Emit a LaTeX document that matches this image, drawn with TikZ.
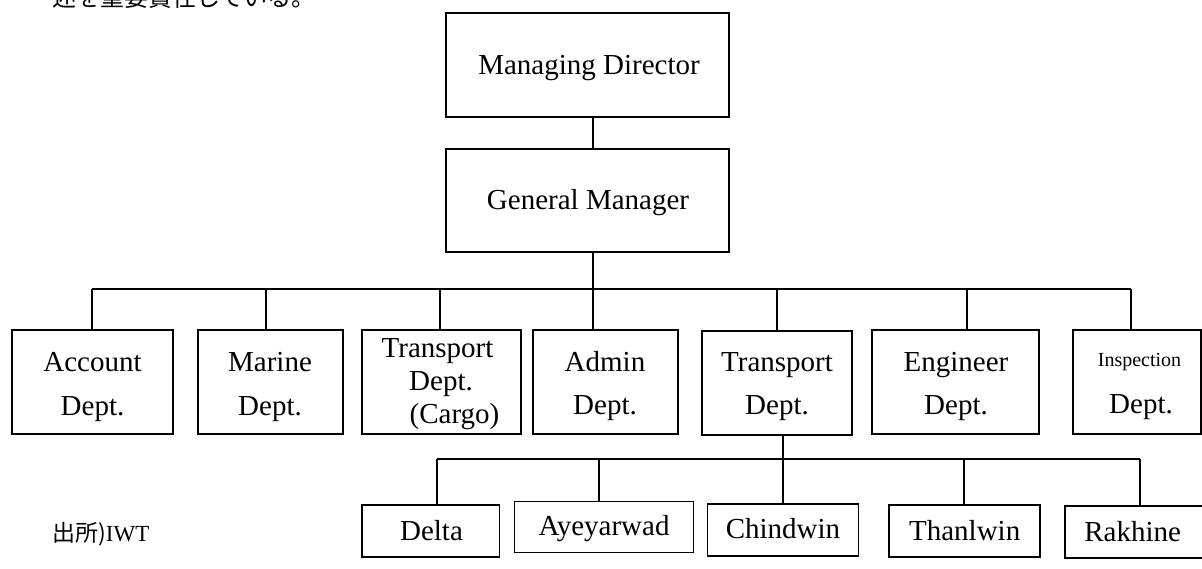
\documentclass[tikz,border=0pt]{standalone}
\usepackage{fontspec}
\setmainfont{Liberation Serif}
\newfontfamily\jpfont{Noto Sans CJK JP}
\tikzset{
  box/.style={draw, line width=1.5pt, inner sep=0pt, outer sep=0pt},
  lbl/.style={anchor=base, inner sep=0pt, font=\fontsize{29}{34}\selectfont},
  small/.style={anchor=base, inner sep=0pt, font=\fontsize{20}{24}\selectfont},
  link/.style={line width=1.3pt},
  jp/.style={anchor=base west, inner sep=0pt, font=\jpfont\fontsize{#1}{#1}\selectfont}
}
\begin{document}
\begin{tikzpicture}[x=1pt, y=-1pt]
\useasboundingbox (0,0) rectangle (1202,569);

% running text above the chart (cut by the page edge)
\node[jp=24] (intro) at (52,7) {述を重要責任している。};

% top management
\node[box, minimum width=283pt, minimum height=104pt] (md) at (587.5,65) {};
\node[lbl] (mdt) at (589,75) {Managing Director};
\node[box, minimum width=283pt, minimum height=103pt] (gm) at (587.5,200.5) {};
\node[lbl] (gmt) at (588,210) {General Manager};

% departments
\node[box, minimum width=161pt, minimum height=104pt] (acc) at (92.5,382) {};
\node[box, minimum width=145pt, minimum height=104pt] (mar) at (270.5,382) {};
\node[box, minimum width=159pt, minimum height=104pt] (crg) at (441.5,382) {};
\node[box, minimum width=145pt, minimum height=104pt] (adm) at (605.5,382) {};
\node[box, minimum width=150pt, minimum height=104pt] (trn) at (777,383) {};
\node[box, minimum width=167pt, minimum height=104pt] (eng) at (955.5,382) {};
\node[box, minimum width=128pt, minimum height=104pt] (ins) at (1137,382) {};

\node[lbl] (acc1) at (92.5,371) {Account};
\node[lbl] (acc2) at (92.5,415) {Dept.};
\node[lbl] (mar1) at (270,371) {Marine};
\node[lbl] (mar2) at (270,415) {Dept.};
\node[lbl] (crg1) at (437.5,357) {Transport};
\node[lbl] (crg2) at (441,390) {Dept.};
\node[lbl] (crg3) at (454.5,423) {(Cargo)};
\node[lbl] (adm1) at (605,371) {Admin};
\node[lbl] (adm2) at (605,414) {Dept.};
\node[lbl] (trn1) at (777,371) {Transport};
\node[lbl] (trn2) at (777,414) {Dept.};
\node[lbl] (eng1) at (956,371) {Engineer};
\node[lbl] (eng2) at (956,414) {Dept.};
\node[small] (ins1) at (1139.5,366) {Inspection};
\node[lbl] (ins2) at (1141,413) {Dept.};

% regional offices
\node[box, minimum width=137.5pt, minimum height=52pt] (dlt) at (430.75,531) {};
\node[box, minimum width=179pt, minimum height=51pt] (aye) at (604,527) {};
\node[box, minimum width=151pt, minimum height=52pt] (chi) at (783,530) {};
\node[box, minimum width=151pt, minimum height=52pt] (tha) at (964.5,531) {};
\node[box, minimum width=138pt, minimum height=52pt] (rak) at (1134,532) {};

\node[lbl] (dltt) at (431.5,540) {Delta};
\node[lbl] (ayet) at (604,535) {Ayeyarwad};
\node[lbl] (chit) at (783,538) {Chindwin};
\node[lbl] (chat) at (964.7,540) {Thanlwin};
\node[lbl] (rakt) at (1132.6,541.7) {Rakhine};

% source
\node[jp=23] (src) at (52,541) {出所)\fontspec{Liberation Serif}IWT};

% junctions on the department bus
\coordinate (jt) at (593,289);
\coordinate (j1) at (92,289);
\coordinate (j2) at (266,289);
\coordinate (j3) at (440,289);
\coordinate (j5) at (777,289);
\coordinate (j6) at (967,289);
\coordinate (j7) at (1131,289);

\draw[link] (md.south -| jt) -- (gm.north -| jt);
\draw[link] (gm.south -| jt) -- (jt);
\draw[link] (j1) -- (j7);
\draw[link] (j1) -- (acc.north -| j1);
\draw[link] (j2) -- (mar.north -| j2);
\draw[link] (j3) -- (crg.north -| j3);
\draw[link] (jt) -- (adm.north -| jt);
\draw[link] (j5) -- (trn.north -| j5);
\draw[link] (j6) -- (eng.north -| j6);
\draw[link] (j7) -- (ins.north -| j7);

% junctions on the regional bus
\coordinate (k0) at (783,459);
\coordinate (k1) at (437,459);
\coordinate (k2) at (599,459);
\coordinate (k4) at (964,459);
\coordinate (k5) at (1140,459);

\draw[link] (trn.south -| k0) -- (chi.north -| k0);
\draw[link] (k1) -- (k5);
\draw[link] (k1) -- (dlt.north -| k1);
\draw[link] (k2) -- (aye.north -| k2);
\draw[link] (k4) -- (tha.north -| k4);
\draw[link] (k5) -- (rak.north -| k5);
\end{tikzpicture}
\end{document}
